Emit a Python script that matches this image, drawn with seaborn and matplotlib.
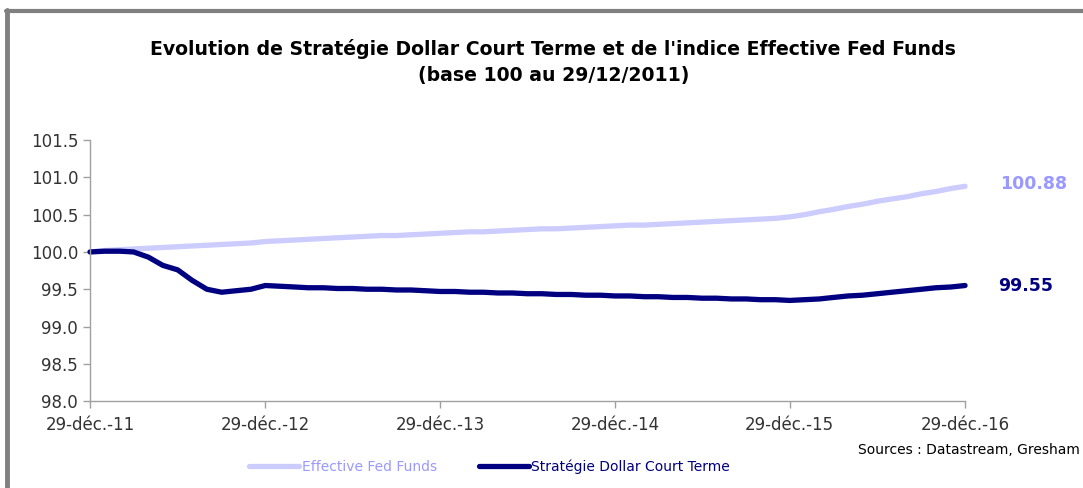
import numpy as np
import pandas as pd
import seaborn as sns
from matplotlib import pyplot as plt
from matplotlib.lines import Line2D

# monthly observations, 29 Dec 2011 -> 29 Dec 2016
dates = pd.date_range("2011-12-01", periods=61, freq="MS") + pd.Timedelta(days=28)

fed_funds = [
    100.00,
    100.02, 100.03, 100.04, 100.05, 100.06, 100.07, 100.08, 100.09, 100.10, 100.11, 100.12, 100.14,
    100.15, 100.16, 100.17, 100.18, 100.19, 100.20, 100.21, 100.22, 100.22, 100.23, 100.24, 100.25,
    100.26, 100.27, 100.27, 100.28, 100.29, 100.30, 100.31, 100.31, 100.32, 100.33, 100.34, 100.35,
    100.36, 100.36, 100.37, 100.38, 100.39, 100.40, 100.41, 100.42, 100.43, 100.44, 100.45, 100.47,
    100.50, 100.54, 100.57, 100.61, 100.64, 100.68, 100.71, 100.74, 100.78, 100.81, 100.85, 100.88,
]
strategie = [
    100.00,
    100.01, 100.01, 100.00, 99.93, 99.82, 99.76, 99.62, 99.50, 99.46, 99.48, 99.50, 99.55,
    99.54, 99.53, 99.52, 99.52, 99.51, 99.51, 99.50, 99.50, 99.49, 99.49, 99.48, 99.47,
    99.47, 99.46, 99.46, 99.45, 99.45, 99.44, 99.44, 99.43, 99.43, 99.42, 99.42, 99.41,
    99.41, 99.40, 99.40, 99.39, 99.39, 99.38, 99.38, 99.37, 99.37, 99.36, 99.36, 99.35,
    99.36, 99.37, 99.39, 99.41, 99.42, 99.44, 99.46, 99.48, 99.50, 99.52, 99.53, 99.55,
]

tick_dates = pd.to_datetime(["2011-12-29", "2012-12-29", "2013-12-29",
                             "2014-12-29", "2015-12-29", "2016-12-29"])
tick_labels = ["29-déc.-11", "29-déc.-12", "29-déc.-13",
               "29-déc.-14", "29-déc.-15", "29-déc.-16"]
y_ticks = [98.0, 98.5, 99.0, 99.5, 100.0, 100.5, 101.0, 101.5]

light = "#ccccff"
light_txt = "#9999ff"
navy = "#000080"

sns.set_style("white")
plt.rcParams["font.family"] = ["DejaVu Sans"]

fig = plt.figure(figsize=(10.83, 4.88), dpi=100)
ax = fig.add_axes([0.0831, 0.178, 0.808, 0.535])

df = pd.DataFrame({"Date": dates, "Fed": fed_funds, "Strat": strategie})
sns.lineplot(data=df, x="Date", y="Fed", ax=ax, color=light, linewidth=3.8,
             label="Effective Fed Funds", solid_capstyle="round", solid_joinstyle="round")
sns.lineplot(data=df, x="Date", y="Strat", ax=ax, color=navy, linewidth=3.8,
             label="Stratégie Dollar Court Terme", solid_capstyle="round", solid_joinstyle="round")

ax.set_xlim(tick_dates[0], tick_dates[-1])
ax.set_ylim(98.0, 101.5)
ax.set_xticks(tick_dates)
ax.set_xticklabels(tick_labels)
ax.set_yticks(y_ticks)
ax.set_yticklabels([f"{v:.1f}" for v in y_ticks])
ax.set_xlabel("")
ax.set_ylabel("")
ax.tick_params(axis="both", colors="#a0a0a0", labelcolor="#333333", labelsize=12,
               length=5, width=1, direction="out", bottom=True, left=True)
ax.tick_params(axis="x", pad=6)
for s in ["top", "right"]:
    ax.spines[s].set_visible(False)
for s in ["left", "bottom"]:
    ax.spines[s].set_color("#a0a0a0")
    ax.spines[s].set_linewidth(1)
for line in ax.get_lines():
    line.set_clip_on(False)

# end-value labels
ax.annotate(f"{fed_funds[-1]:.2f}", xy=(dates[-1], fed_funds[-1]), xytext=(25, 2),
            textcoords="offset points", color=light_txt, fontsize=12.5,
            fontweight="bold", va="center", ha="left")
ax.annotate(f"{strategie[-1]:.2f}", xy=(dates[-1], strategie[-1]), xytext=(24, 0),
            textcoords="offset points", color=navy, fontsize=12.5,
            fontweight="bold", va="center", ha="left")

leg = ax.legend(loc="center", bbox_to_anchor=(0.452, 0.043), bbox_transform=fig.transFigure,
                ncol=2, frameon=False, fontsize=10, handlelength=3.6, handletextpad=0.2,
                columnspacing=3.0)
for txt, col in zip(leg.get_texts(), [light_txt, navy]):
    txt.set_color(col)

fig.text(0.511, 0.90, "Evolution de Stratégie Dollar Court Terme et de l'indice Effective Fed Funds",
         ha="center", va="center", fontsize=13.6, fontweight="bold", color="black")
fig.text(0.511, 0.845, "(base 100 au 29/12/2011)",
         ha="center", va="center", fontsize=13.6, fontweight="bold", color="black")
fig.text(0.997, 0.077, "Sources : Datastream, Gresham", ha="right", va="center",
         fontsize=10, color="black")

# grey frame (top and left edges visible)
fig.add_artist(Line2D([0.006, 1.0], [0.978, 0.978], transform=fig.transFigure,
                      color="#808080", linewidth=3))
fig.add_artist(Line2D([0.0065, 0.0065], [0.0, 0.98], transform=fig.transFigure,
                      color="#808080", linewidth=3.5))

plt.savefig("out.png", dpi=100)
